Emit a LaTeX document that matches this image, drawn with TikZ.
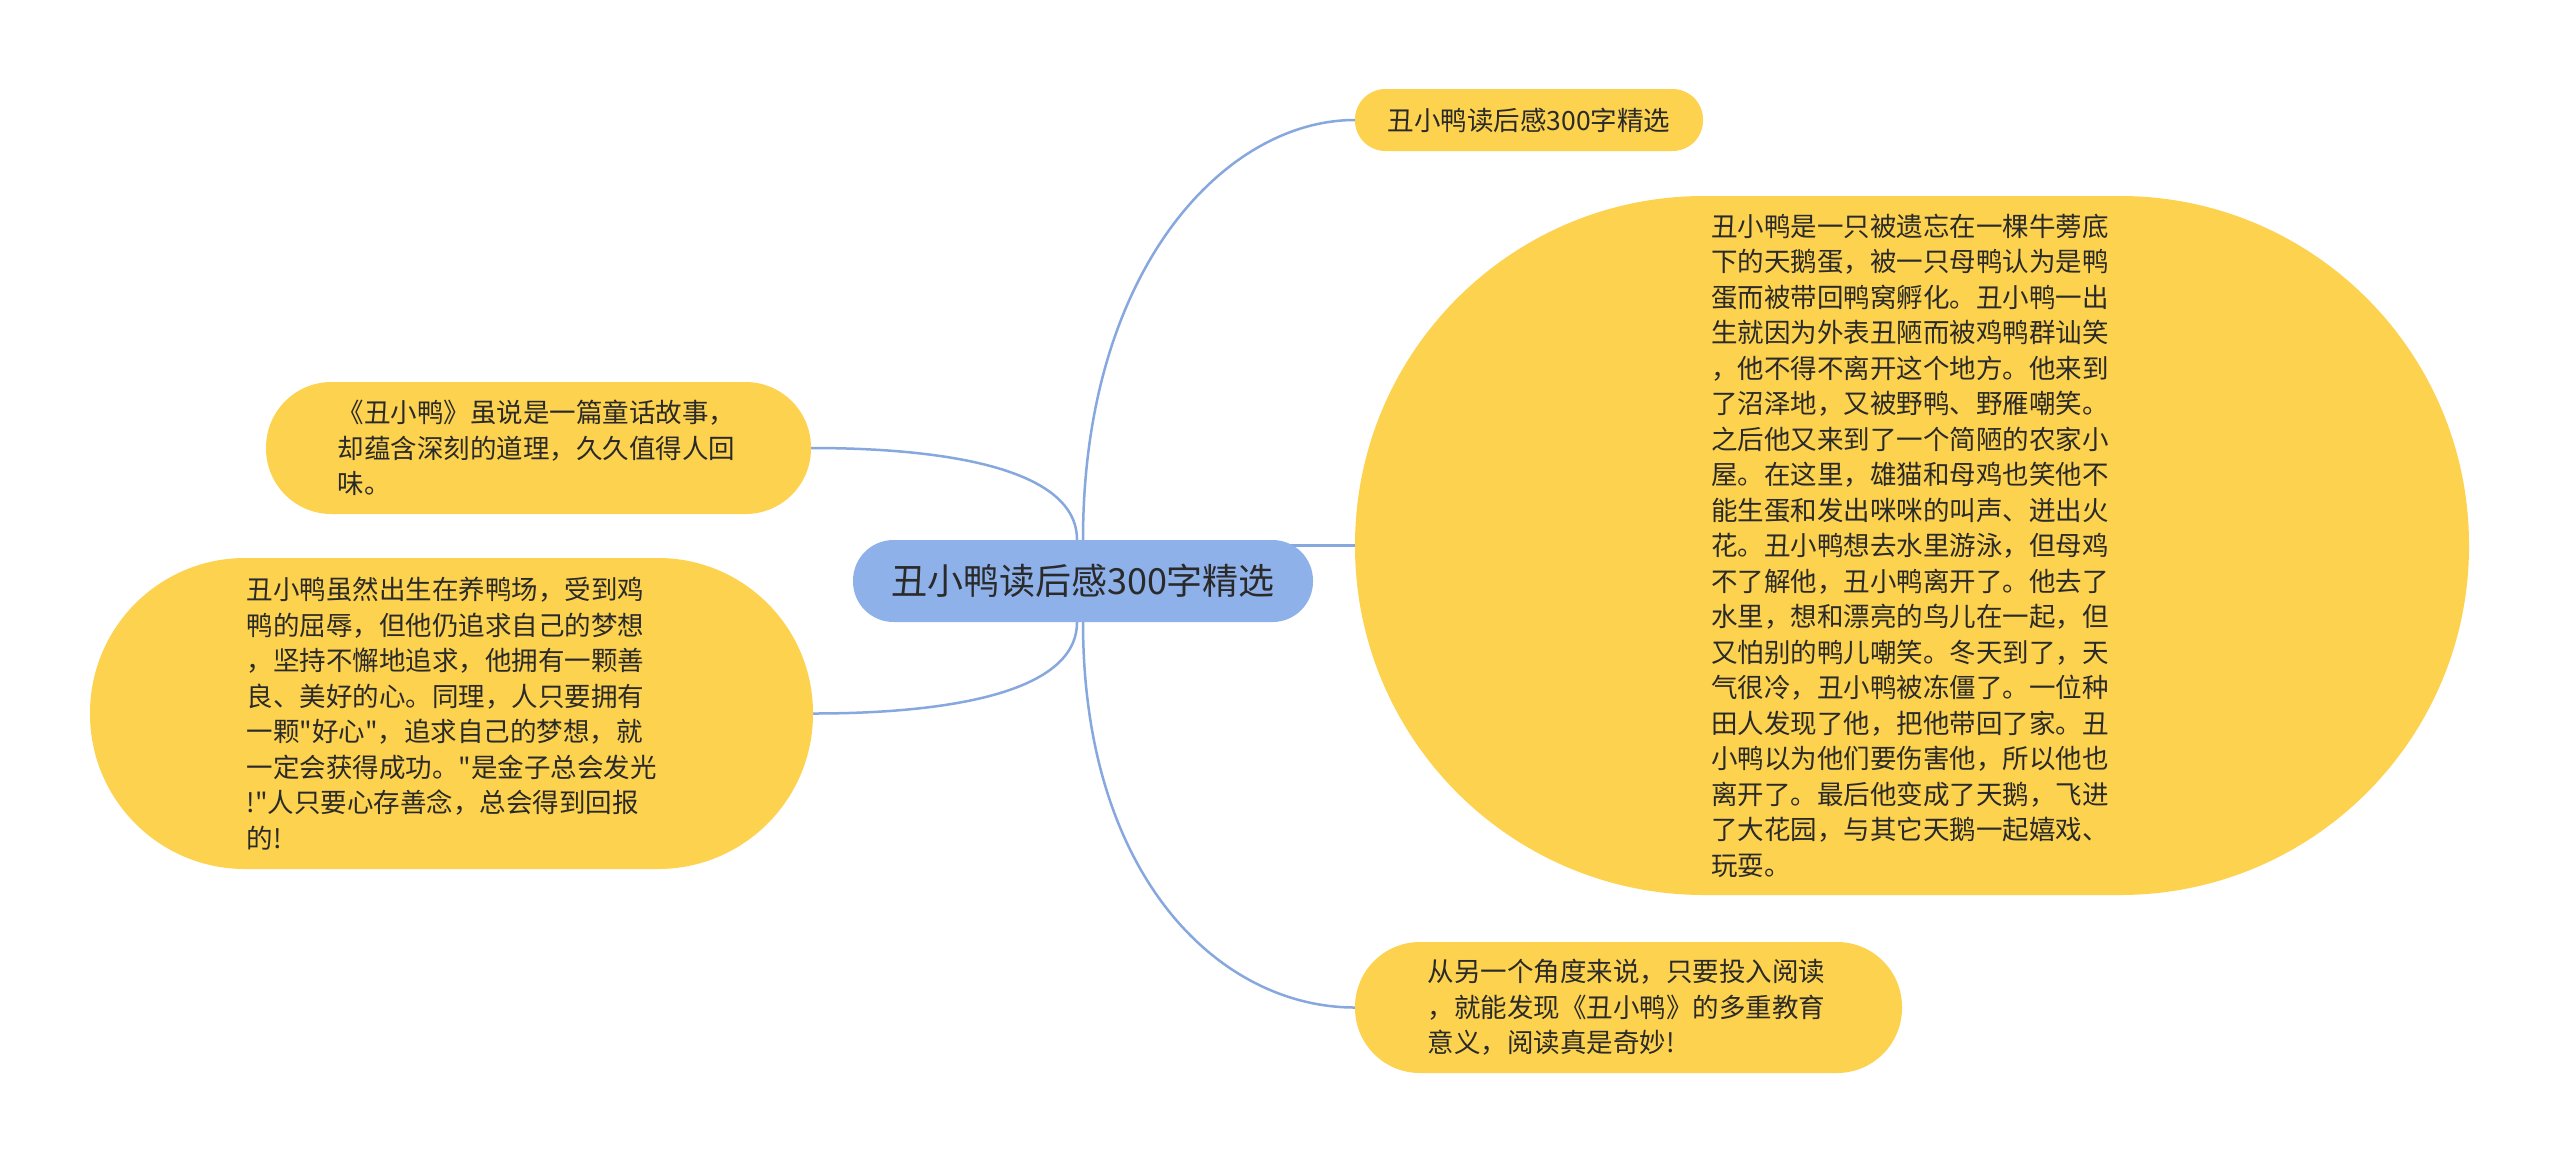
\documentclass[tikz,border=0pt]{standalone}
\usepackage{fontspec}
\newfontfamily\cjk{Noto Sans CJK SC}
\usetikzlibrary{backgrounds,calc}
\definecolor{rootfill}{HTML}{8FB1E9}
\definecolor{leaffill}{HTML}{FCD24F}
\definecolor{linkc}{HTML}{86A8DE}
\definecolor{txt}{HTML}{2A2A2A}
\begin{document}
\begin{tikzpicture}[x=1pt,y=-1pt,
  leaf/.style={fill=leaffill, text=txt, inner sep=0pt, align=left,
    font=\cjk\fontsize{26.5}{35.5}\selectfont},
  rootbox/.style={fill=rootfill, text=txt, inner sep=0pt,
    font=\cjk\fontsize{36}{40}\selectfont},
  link/.style={draw=linkc, line width=2.5pt}]
\useasboundingbox (0,0) rectangle (2560,1163);

\node[rootbox, minimum width=460pt, minimum height=82pt, rounded corners=40.5pt] (root) at (1083,581) {丑小鸭读后感300字精选};

\node[leaf, minimum width=348pt, minimum height=62pt, rounded corners=30.5pt] (n1) at (1529,120) {丑小鸭读后感300字精选};

\node[leaf, minimum width=1114pt, minimum height=699pt, rounded corners=349pt, text width=402pt] (n2) at (1912,545.5) {丑小鸭是一只被遗忘在一棵牛蒡底\\下的天鹅蛋，被一只母鸭认为是鸭\\蛋而被带回鸭窝孵化。丑小鸭一出\\生就因为外表丑陋而被鸡鸭群讪笑\\，他不得不离开这个地方。他来到\\了沼泽地，又被野鸭、野雁嘲笑。\\之后他又来到了一个简陋的农家小\\屋。在这里，雄猫和母鸡也笑他不\\能生蛋和发出咪咪的叫声、迸出火\\花。丑小鸭想去水里游泳，但母鸡\\不了解他，丑小鸭离开了。他去了\\水里，想和漂亮的鸟儿在一起，但\\又怕别的鸭儿嘲笑。冬天到了，天\\气很冷，丑小鸭被冻僵了。一位种\\田人发现了他，把他带回了家。丑\\小鸭以为他们要伤害他，所以他也\\离开了。最后他变成了天鹅，飞进\\了大花园，与其它天鹅一起嬉戏、\\玩耍。};

\node[leaf, minimum width=547pt, minimum height=131pt, rounded corners=65pt, text width=402pt] (n3) at (1628.5,1007.5) {从另一个角度来说，只要投入阅读\\，就能发现《丑小鸭》的多重教育\\意义，阅读真是奇妙!};

\node[leaf, minimum width=545pt, minimum height=132pt, rounded corners=65.5pt, text width=402pt] (n4) at (538.5,448) {《丑小鸭》虽说是一篇童话故事，\\却蕴含深刻的道理，久久值得人回\\味。};

\node[leaf, minimum width=723pt, minimum height=311pt, rounded corners=155pt, text width=410pt] (n5) at (451.5,713.5) {丑小鸭虽然出生在养鸭场，受到鸡\\鸭的屈辱，但他仍追求自己的梦想\\，坚持不懈地追求，他拥有一颗善\\良、美好的心。同理，人只要拥有\\一颗"好心"，追求自己的梦想，就\\一定会获得成功。"是金子总会发光\\!"人只要心存善念，总会得到回报\\的!};

\begin{scope}[on background layer]
\fill[white] (0,0) rectangle (2560,1163);
\draw[link] (root.north) .. controls ($(root.north)+(0,-270)$) and ($(n1.west)+(-130,0)$) .. (n1.west);
\draw[link] (root.center |- n2.west) -- (n2.west);
\draw[link] (root.south) .. controls ($(root.south)+(0,255)$) and ($(n3.west)+(-135,0)$) .. (n3.west);
\draw[link] ($(root.north)+(-6,0)$) .. controls ($(root.north)+(-6,-70)$) and ($(n4.east)+(139,0)$) .. (n4.east);
\draw[link] ($(root.south)+(-6,0)$) .. controls ($(root.south)+(-6,70)$) and ($(n5.east)+(137,0)$) .. (n5.east);
\end{scope}
\end{tikzpicture}
\end{document}
